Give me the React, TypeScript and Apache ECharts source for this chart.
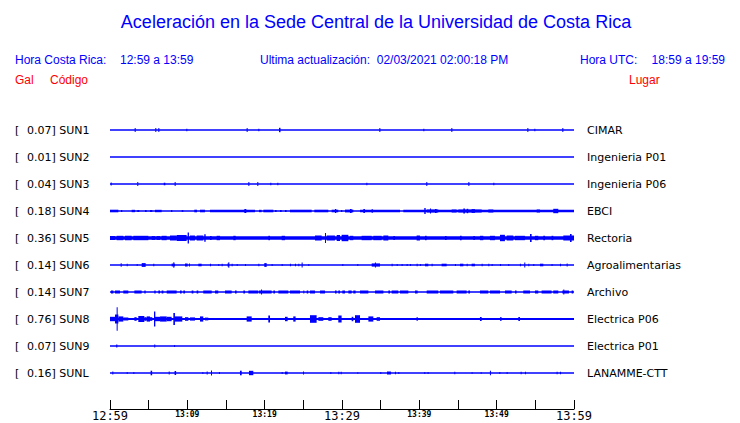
import React, { useEffect, useRef } from "react";
import * as echarts from "echarts";

const BLUE = "#0000ff";
const RED = "#ff0000";

const STATIONS = ["SUN1", "SUN2", "SUN3", "SUN4", "SUN5", "SUN6", "SUN7", "SUN8", "SUN9", "SUNL"];
const PLACES = ["CIMAR", "Ingenieria P01", "Ingenieria P06", "EBCI", "Rectoria", "Agroalimentarias", "Archivo", "Electrica P06", "Electrica P01", "LANAMME-CTT"];
const PEAKS = ["0.07", "0.01", "0.04", "0.18", "0.36", "0.14", "0.14", "0.76", "0.07", "0.16"];
// baseline (noise floor) half-amplitude of each trace
const BASE = [0.65, 0.65, 0.65, 0.7, 1.7, 0.7, 0.7, 1.1, 0.65, 0.65];
const TICK_LABELS = ["12:59", "13:09", "13:19", "13:29", "13:39", "13:49", "13:59"];
const MAJOR_LABELS = ["12:59", "13:29", "13:59"];

// bursts: [startMinute, endMinute, halfAmplitude]
const CIMAR = [[3.19, 3.19, 2], [5.86, 5.86, 2], [6.25, 6.25, 2], [9.87, 9.87, 1.2], [17.67, 17.67, 2], [19.18, 19.18, 1.2], [21.85, 22.05, 2.2], [34.83, 34.83, 2], [40.52, 40.52, 1.2], [44.14, 44.14, 2], [53.97, 53.97, 2], [54.87, 54.87, 1.2], [58.49, 58.49, 2]];
const ING_P01: number[][] = [];
const ING_P06 = [[0.09, 0.09, 1.5], [3.53, 3.53, 2], [6.95, 7.15, 1.3], [8.36, 8.36, 2], [17.89, 17.89, 2], [19.05, 19.05, 2], [20.73, 20.73, 1.2], [21.64, 21.64, 1.2], [33.15, 33.15, 1.2], [40.9, 40.9, 2], [46.34, 46.34, 2], [49.57, 49.57, 1.2]];
const EBCI = [[0, 1.08, 1.3], [1.42, 1.59, 1.0], [2.8, 3.23, 1.2], [3.53, 3.79, 1.0], [4.53, 4.74, 1.0], [5.17, 5.47, 1.0], [5.82, 6.68, 1.2], [7.89, 8.06, 0.9], [9.27, 9.48, 0.9], [10.9, 11.25, 1.3], [11.64, 12.28, 1.3], [12.93, 18.75, 1.3], [17.37, 17.63, 2.0], [19.27, 19.61, 1.2], [19.83, 21.12, 1.3], [21.34, 21.55, 1.0], [21.98, 22.2, 1.0], [22.63, 22.84, 1.0], [23.27, 26.08, 1.3], [26.42, 28.23, 1.3], [28.66, 29.52, 1.3], [29.09, 29.26, 2.0], [29.87, 30.04, 1.0], [30.39, 31.46, 1.4], [31.03, 31.25, 2.0], [32.33, 37.5, 1.3], [32.76, 32.97, 1.9], [33.84, 33.96, 1.9], [37.93, 60, 1.3], [40.64, 40.82, 3.0], [40.95, 42.45, 1.5], [41.38, 41.51, 2.6], [42.02, 42.24, 2.0], [44.18, 44.82, 1.5], [45.04, 48.06, 1.5], [45.69, 45.9, 2.6], [46.12, 46.33, 2.2], [46.76, 47.19, 1.9], [48.92, 49.57, 1.5], [55.17, 55.6, 1.5], [57.32, 57.97, 2.2]];
const RECTORIA = [[0, 0.65, 2], [0.86, 1.72, 2.2], [1.94, 2.8, 2.2], [3.02, 4.96, 2.2], [5.39, 5.82, 1.9], [6.03, 6.47, 1.9], [6.68, 7.33, 2.2], [7.76, 8.62, 2.5], [8.62, 9.91, 3.0], [10.04, 10.21, 5.5], [10.34, 10.99, 2.5], [11.2, 12.06, 2.5], [12.19, 12.37, 3.8], [12.93, 13.15, 2.0], [13.79, 14.22, 2.2], [15.95, 16.25, 2.2], [20.47, 20.69, 2.2], [22.2, 22.63, 2.2], [26.51, 27.37, 2.5], [27.8, 27.93, 5.0], [28.02, 29.09, 2.5], [29.31, 29.74, 3.0], [29.95, 30.82, 3.2], [31.03, 31.46, 2.2], [32.54, 33.84, 2.2], [34.05, 35.13, 2.2], [35.35, 35.99, 2.5], [36.64, 36.85, 2], [39.65, 40.08, 2.5], [40.73, 40.95, 2.2], [43.32, 43.53, 2], [45.26, 45.47, 2.2], [46.98, 47.19, 2], [47.84, 48.27, 2.2], [49.13, 49.78, 2.2], [50.43, 51.07, 3.2], [51.29, 52.15, 2.5], [52.37, 53.66, 2.2], [54.31, 54.52, 4.0], [54.95, 55.38, 2.2], [56.03, 56.25, 2.2], [57.1, 57.32, 2.2], [58.62, 60, 2.5], [59.48, 59.69, 4.0]];
const AGRO = [[1.38, 1.38, 1.8], [2.16, 2.16, 1.2], [3.45, 3.45, 1], [4.1, 4.61, 1.9], [5.6, 5.6, 1.2], [7.97, 8.4, 1.4], [8.19, 8.19, 2.8], [9.7, 10.04, 1.5], [10.21, 10.21, 1.5], [11.42, 11.85, 1.3], [12.93, 12.93, 1.2], [14.0, 14.0, 1], [14.44, 14.44, 1.2], [15.2, 15.4, 1.6], [15.3, 15.3, 2.8], [15.73, 15.73, 1.3], [16.38, 16.38, 1], [17.46, 17.46, 1], [19.18, 19.18, 1.2], [19.95, 20.26, 1.9], [20.9, 20.9, 1], [22.2, 22.2, 1], [23.27, 23.27, 1.2], [23.92, 23.92, 1.2], [24.35, 24.35, 1.2], [24.78, 24.78, 2.5], [25.64, 25.64, 0.9], [30.04, 30.04, 1], [31.98, 31.98, 1], [33.84, 34.91, 1.6], [34.26, 34.26, 2.6], [36.42, 36.42, 1.2], [37.07, 37.07, 1], [37.71, 37.71, 0.9], [38.36, 38.36, 1], [38.79, 38.79, 1], [39.65, 39.65, 1.2], [40.08, 40.08, 1], [40.73, 41.16, 1.3], [41.59, 41.59, 1.3], [42.88, 43.53, 1.3], [44.61, 44.61, 1], [45.26, 45.69, 1.3], [46.12, 46.12, 1.2], [46.76, 47.19, 1.3], [48.06, 48.06, 1.2], [48.92, 48.92, 1.2], [49.35, 49.35, 1], [50.43, 50.43, 1], [51.5, 51.5, 1], [53.01, 53.01, 1.2], [53.57, 53.57, 2.5], [54.09, 54.09, 1.2], [54.74, 54.74, 1], [55.6, 56.03, 1.3], [57.1, 57.1, 1], [58.19, 58.19, 1.2], [59.05, 59.05, 1.5]];
const ARCHIVO = [[0.13, 0.43, 1.5], [0.65, 1.29, 1.5], [1.72, 2.37, 1.5], [3.15, 4.09, 1.5], [4.44, 4.61, 1.5], [5.73, 5.9, 1.5], [6.25, 6.47, 1.5], [6.68, 6.9, 1.5], [7.33, 8.62, 1.5], [9.05, 9.27, 1.5], [9.48, 9.7, 1.5], [10.56, 10.78, 1.5], [11.2, 11.42, 1.5], [12.06, 13.15, 1.5], [13.58, 14.0, 1.5], [14.87, 15.73, 1.5], [16.16, 16.38, 1.5], [17.24, 17.46, 1.5], [17.89, 19.18, 1.5], [19.27, 20.9, 1.5], [19.53, 19.53, 2.5], [21.12, 21.34, 1.5], [21.77, 23.06, 1.5], [23.27, 24.57, 1.5], [25, 25.13, 1.5], [25.43, 25.64, 1.5], [25.86, 26.51, 1.5], [27.16, 27.8, 1.5], [29.09, 29.31, 1.5], [29.52, 29.74, 1.5], [30.04, 30.39, 1.5], [30.82, 31.25, 1.5], [31.46, 31.76, 1.5], [32.33, 33.41, 1.5], [34.26, 35.35, 1.5], [35.99, 36.21, 1.5], [36.42, 37.28, 1.5], [37.5, 38.58, 1.5], [39.44, 39.78, 1.5], [40.95, 42.45, 1.5], [42.67, 44.39, 1.5], [44.82, 46.12, 1.5], [46.33, 46.55, 1.5], [47.84, 48.92, 1.5], [49.13, 50.43, 1.5], [51.07, 51.94, 1.5], [52.37, 52.58, 1.5], [53.44, 54.31, 1.5], [54.95, 55.38, 1.5], [55.81, 57.1, 1.5], [57.32, 57.97, 1.5], [58.49, 59.35, 1.5], [58.62, 58.62, 2.5], [59.69, 59.91, 1.5]];
const ELEC_P06 = [[0, 0.65, 2.2], [0.65, 1.08, 4.5], [0.86, 0.99, 11.8], [1.08, 1.72, 2.6], [1.72, 2.37, 1.5], [3.15, 3.45, 1.8], [3.66, 4.44, 3.0], [4.44, 4.74, 1.8], [4.74, 5.17, 2.6], [5.17, 5.47, 1.8], [5.69, 5.86, 7.5], [5.82, 6.47, 2.2], [6.47, 7.33, 2.6], [7.33, 7.97, 2.2], [8.19, 8.4, 6], [8.4, 9.35, 2.6], [9.7, 10.13, 1.8], [10.34, 10.99, 1.6], [11.64, 12.06, 2.6], [12.28, 12.71, 1.4], [17.67, 18.32, 2.6], [20.47, 20.69, 3.5], [22.63, 22.97, 2.2], [23.7, 24.0, 2.6], [25.86, 26.72, 3.8], [26.94, 27.58, 1.8], [28.23, 28.66, 1.8], [29.52, 29.95, 3.5], [31.25, 31.46, 2.2], [31.68, 32.33, 3.8], [33.41, 34.05, 2.6], [34.48, 34.91, 1.8], [39.65, 39.78, 2], [47.84, 48.06, 2], [50.43, 50.64, 1.8], [52.8, 53.01, 2]];
const ELEC_P01 = [[0.8, 0.95, 1.5], [5.72, 5.85, 1.5], [8.28, 8.28, 1]];
const LANAMME = [[0.3, 0.3, 1.5], [2.16, 2.16, 0.9], [3.02, 3.02, 0.9], [5.25, 5.45, 2.3], [7.59, 7.59, 1.5], [8.35, 8.55, 2.0], [11.94, 11.94, 1], [12.5, 12.5, 1.5], [13.06, 13.06, 2.5], [14.09, 14.09, 1], [16.81, 17.03, 2.3], [17.97, 18.53, 2.2], [22.2, 22.2, 1], [22.63, 22.97, 1.4], [24.96, 24.96, 1.5], [28.49, 28.49, 1], [29.52, 29.52, 1.3], [29.83, 29.83, 1.3], [31.98, 31.98, 0.8], [34.95, 34.95, 1], [35.82, 36.33, 1.5], [36.85, 36.85, 1.2], [37.28, 37.28, 1], [40.64, 40.64, 1], [41.07, 41.07, 1], [44.52, 44.52, 1.2], [46.76, 46.76, 0.8], [47.93, 47.93, 0.8], [49.13, 49.13, 2.3], [50.34, 50.34, 1], [51.29, 51.29, 1], [53.1, 53.1, 1.2], [53.66, 53.66, 1.2], [57.75, 57.75, 1.3], [58.19, 58.19, 1.3]];

const TRACES = [CIMAR, ING_P01, ING_P06, EBCI, RECTORIA, AGRO, ARCHIVO, ELEC_P06, ELEC_P01, LANAMME];

const ROW_UNIT_PX = 27; // amplitude units per row spacing
const AMP = 1 / ROW_UNIT_PX;

export default function App() {
  const ref = useRef<HTMLDivElement>(null);
  useEffect(() => {
    document.body.style.margin = "0";
    const chart = echarts.init(ref.current!, null, { renderer: "svg" });
    const data: number[][] = [];
    TRACES.forEach((tr, row) => {
      data.push([row, 0, 60, BASE[row]]);
      tr.forEach((b) => data.push([row, b[0], b[1], b[2]]));
    });
    chart.setOption({
      animation: false,
      backgroundColor: "#ffffff",
      grid: { left: 110, right: 166, top: 116.5, bottom: 14 },
      xAxis: {
        type: "value",
        position: "bottom",
        min: 0,
        max: 60,
        interval: 5,
        splitLine: { show: false },
        axisLine: { show: true, onZero: false, lineStyle: { color: "#000", width: 1 } },
        axisTick: { show: true, inside: true, length: 9, lineStyle: { color: "#000" } },
        axisLabel: {
          margin: 1,
          color: "#000",
          formatter: (v: number) => {
            if (v % 10 !== 0) return "";
            const s = TICK_LABELS[v / 10];
            return MAJOR_LABELS.includes(s) ? `{big|${s}}` : `{small|${s}}`;
          },
          rich: {
            big: { fontFamily: "DejaVu Sans Mono", fontSize: 12, color: "#000" },
            small: { fontFamily: "DejaVu Sans Mono", fontSize: 8, fontWeight: "bold", color: "#000" },
          },
        },
      },
      yAxis: { type: "value", min: -0.5, max: 10.3333, inverse: true, show: false },
      series: [
        {
          type: "custom",
          clip: false,
          data,
          renderItem: (params: any, api: any) => {
            const row = api.value(0);
            const t0 = api.value(1);
            const t1 = api.value(2);
            const a = api.value(3);
            const p0 = api.coord([t0, row - a * AMP]);
            const p1 = api.coord([t1, row + a * AMP]);
            return {
              type: "rect",
              shape: { x: p0[0], y: p0[1], width: Math.max(1, p1[0] - p0[0]), height: p1[1] - p0[1] },
              style: { fill: BLUE },
            };
          },
        },
      ],
    });
    const ys = STATIONS.map((_, i) => chart.convertToPixel({ yAxisIndex: 0 }, i) as number);
    const font = (size: number, fam = "Liberation Sans") => `${size}px '${fam}'`;
    const txt = (x: number, y: number, text: string, fill: string, f: string, align = "left") => ({
      type: "text",
      x,
      y,
      style: { text, fill, font: f, textAlign: align, textVerticalAlign: "middle" },
    });
    const g: any[] = [
      txt(376, 22, "Aceleración en la Sede Central de la Universidad de Costa Rica", BLUE, font(18), "center"),
      txt(15, 60, "Hora Costa Rica:", BLUE, font(12)),
      txt(120, 60, "12:59 a 13:59", BLUE, font(12)),
      txt(260, 60, "Ultima actualización:  02/03/2021 02:00:18 PM", BLUE, font(12)),
      txt(580, 60, "Hora UTC:", BLUE, font(12)),
      txt(725, 60, "18:59 a 19:59", BLUE, font(12), "right"),
      txt(15, 80, "Gal", RED, font(12)),
      txt(50, 80, "Código", RED, font(12)),
      txt(629, 80, "Lugar", RED, font(12)),
    ];
    ys.forEach((y, i) => {
      g.push(txt(15, y, "[", "#000", font(11, "DejaVu Sans")));
      g.push(txt(27, y, `${PEAKS[i]}] ${STATIONS[i]}`, "#000", font(11, "DejaVu Sans")));
      g.push(txt(587, y, PLACES[i], "#000", font(11, "DejaVu Sans")));
    });
    chart.setOption({ graphic: g });
    return () => chart.dispose();
  }, []);
  return <div ref={ref} style={{ width: 740, height: 423 }} />;
}
